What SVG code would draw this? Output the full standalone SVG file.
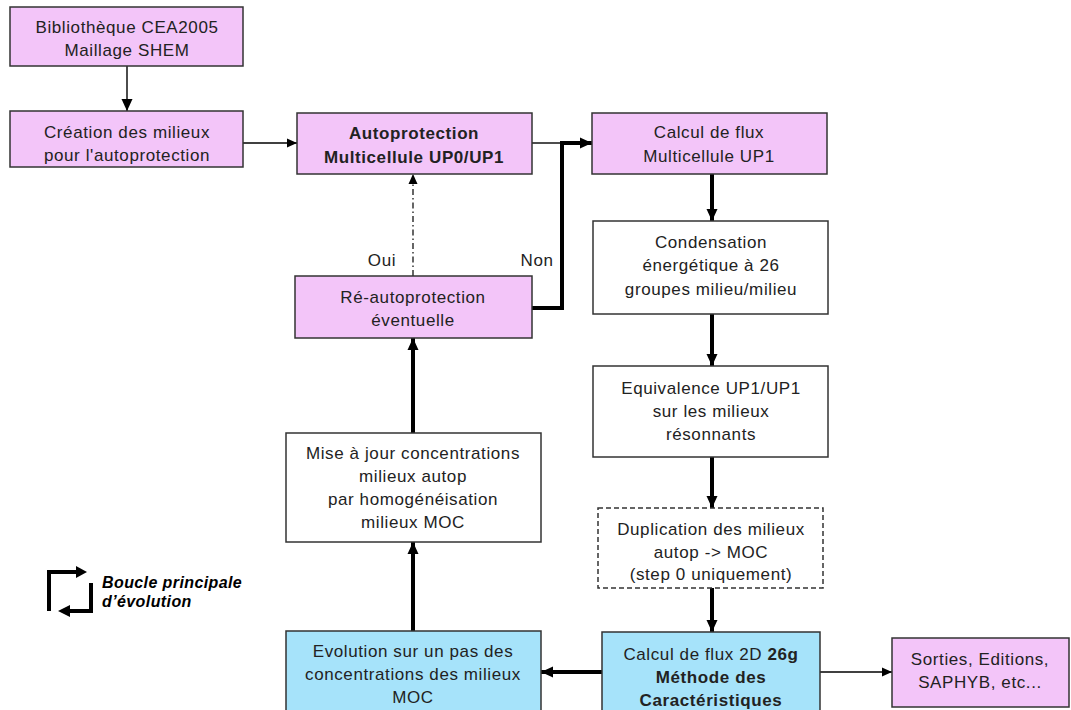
<svg xmlns="http://www.w3.org/2000/svg" width="1071" height="710" viewBox="0 0 1071 710">
<defs>
<style>
.box{stroke:#333;stroke-width:1.5}
.pink{fill:#F3C5F9}
.blue{fill:#A6E3FA}
.white{fill:#fff}
.dash{stroke-dasharray:5 3}
text{font-family:"Liberation Sans",Arial,sans-serif;font-size:17px;fill:#222;text-anchor:middle;letter-spacing:0.6px}
.b{font-weight:bold}
.thin{stroke:#000;stroke-width:1.4;fill:none}
.thick{stroke:#000;stroke-width:4;fill:none}
.dd{stroke:#000;stroke-width:1.2;fill:none;stroke-dasharray:6 3 1.5 3}
.leg{stroke:#000;stroke-width:4;fill:none}
.legt{font-size:16px;font-weight:bold;font-style:italic;text-anchor:start;letter-spacing:0.4px;fill:#000}
</style>
<marker id="ah" markerUnits="userSpaceOnUse" markerWidth="12" markerHeight="12" viewBox="0 0 12 12" refX="12" refY="6" orient="auto">
<path d="M0,0.5 L12,6 L0,11.5 Z" fill="#000"/>
</marker>
<marker id="ahs" markerUnits="userSpaceOnUse" markerWidth="10" markerHeight="10" viewBox="0 0 10 10" refX="10" refY="5" orient="auto">
<path d="M0,0.5 L10,5 L0,9.5 Z" fill="#000"/>
</marker>
</defs>
<rect width="1071" height="710" fill="#fff"/>

<g id="connectors">
<line class="thin" x1="127" y1="66" x2="127" y2="111" marker-end="url(#ah)"/>
<line class="thin" x1="243" y1="143" x2="297" y2="143" marker-end="url(#ahs)"/>
<line class="thin" x1="532" y1="143" x2="562" y2="143"/>
<polyline class="thick" points="532,308 562,308 562,143 592,143" marker-end="url(#ah)"/>
<line class="dd" x1="413" y1="276" x2="413" y2="174" marker-end="url(#ahs)"/>
<line class="thick" x1="413" y1="433" x2="413" y2="338" marker-end="url(#ah)"/>
<line class="thick" x1="413" y1="631" x2="413" y2="542" marker-end="url(#ah)"/>
<line class="thick" x1="602" y1="672" x2="541" y2="672" marker-end="url(#ah)"/>
<line class="thin" x1="820" y1="672" x2="892" y2="672" marker-end="url(#ahs)"/>
<line class="thick" x1="712" y1="174" x2="712" y2="221" marker-end="url(#ah)"/>
<line class="thick" x1="712" y1="314" x2="712" y2="366" marker-end="url(#ah)"/>
<line class="thick" x1="712" y1="457" x2="712" y2="508" marker-end="url(#ah)"/>
<line class="thick" x1="712" y1="588" x2="712" y2="632" marker-end="url(#ah)"/>
<text x="382" y="266">Oui</text>
<text x="537" y="266">Non</text>
</g>

<g id="biblio">
<rect class="box pink" x="10" y="7" width="233" height="59"/>
<text x="127" y="33">Bibliothèque CEA2005</text>
<text x="127" y="56">Maillage SHEM</text>
</g>
<g id="creation">
<rect class="box pink" x="10" y="111" width="233" height="56"/>
<text x="127" y="138">Création des milieux</text>
<text x="127" y="161">pour l'autoprotection</text>
</g>
<g id="autoprotection">
<rect class="box pink" x="297" y="113" width="235" height="61"/>
<text class="b" x="414" y="139">Autoprotection</text>
<text class="b" x="414" y="163">Multicellule UP0/UP1</text>
</g>
<g id="calcul-flux">
<rect class="box pink" x="592" y="113" width="235" height="61"/>
<text x="709" y="138">Calcul de flux</text>
<text x="709" y="162">Multicellule UP1</text>
</g>
<g id="reautoprotection">
<rect class="box pink" x="295" y="276" width="237" height="62"/>
<text x="413" y="303">Ré-autoprotection</text>
<text x="413" y="326">éventuelle</text>
</g>
<g id="condensation">
<rect class="box white" x="593" y="221" width="235" height="93"/>
<text x="711" y="248">Condensation</text>
<text x="711" y="271">énergétique à 26</text>
<text x="711" y="295">groupes milieu/milieu</text>
</g>
<g id="equivalence">
<rect class="box white" x="593" y="366" width="235" height="91"/>
<text x="711" y="394">Equivalence UP1/UP1</text>
<text x="711" y="417">sur les milieux</text>
<text x="711" y="440">résonnants</text>
</g>
<g id="duplication">
<rect class="box white dash" x="598" y="508" width="225" height="80"/>
<text x="711" y="535">Duplication des milieux</text>
<text x="711" y="558">autop -&gt; MOC</text>
<text x="711" y="580">(step 0 uniquement)</text>
</g>
<g id="misejour">
<rect class="box white" x="286" y="433" width="255" height="109"/>
<text x="413" y="459">Mise à jour concentrations</text>
<text x="413" y="482">milieux autop</text>
<text x="413" y="505">par homogénéisation</text>
<text x="413" y="528">milieux MOC</text>
</g>
<g id="evolution">
<rect class="box blue" x="286" y="631" width="255" height="90"/>
<text x="413" y="657">Evolution sur un pas des</text>
<text x="413" y="680">concentrations des milieux</text>
<text x="413" y="703">MOC</text>
</g>
<g id="calcul2d">
<rect class="box blue" x="602" y="632" width="218" height="90"/>
<text x="711" y="660">Calcul de flux 2D <tspan class="b">26g</tspan></text>
<text class="b" x="711" y="683">Méthode des</text>
<text class="b" x="711" y="706">Caractéristiques</text>
</g>
<g id="sorties">
<rect class="box pink" x="892" y="638" width="177" height="69"/>
<text x="980" y="665">Sorties, Editions,</text>
<text x="980" y="688">SAPHYB, etc...</text>
</g>

<g id="legend">
<polyline class="leg" points="49,611 49,572 78,572"/>
<path d="M76,566 L87,572 L76,578 Z" fill="#000"/>
<polyline class="leg" points="91,583 91,611 68,611"/>
<path d="M70,605 L58,611 L70,617 Z" fill="#000"/>
<text class="legt" x="102" y="588">Boucle principale</text>
<text class="legt" x="102" y="607">d’évolution</text>
</g>
</svg>
